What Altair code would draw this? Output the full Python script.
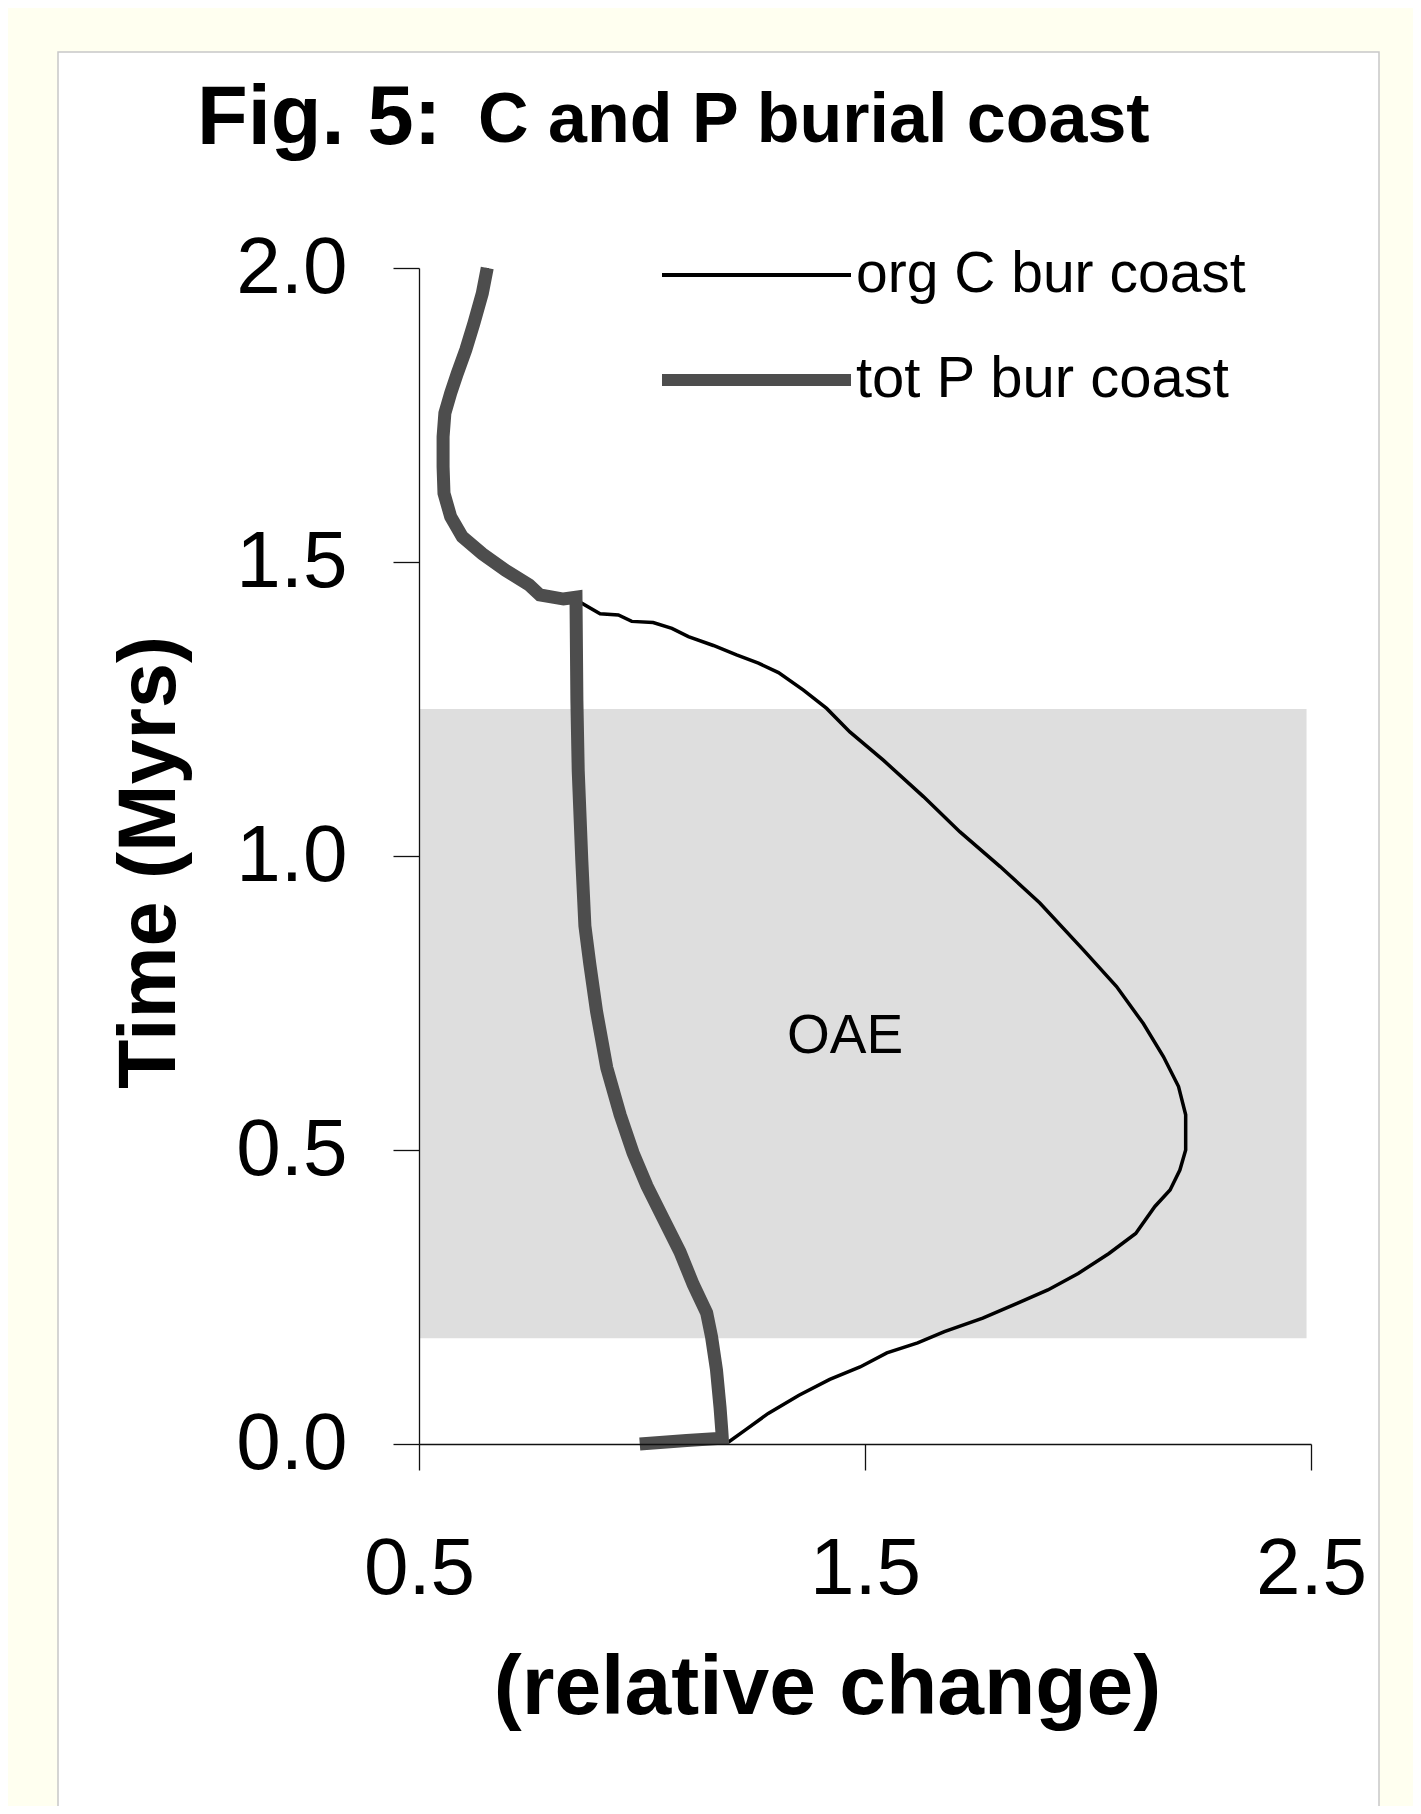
import altair as alt
import pandas as pd

# ---- data ----
c_x = [1.000, 1.195, 1.232, 1.283, 1.352, 1.421, 1.489, 1.549, 1.618, 1.678, 1.764,
       1.841, 1.910, 1.978, 2.047, 2.107, 2.150, 2.184, 2.206, 2.219, 2.219, 2.203,
       2.169, 2.124, 2.064, 1.990, 1.892, 1.803, 1.713, 1.631, 1.541, 1.466, 1.414,
       1.362, 1.306, 1.261, 1.212, 1.160, 1.104, 1.067, 1.025, 0.977, 0.947, 0.906,
       0.865, 0.824, 0.771, 0.747, 0.694, 0.642, 0.597, 0.571, 0.556, 0.554, 0.554,
       0.558, 0.571, 0.586, 0.605, 0.623, 0.642, 0.653]
c_t = [0.000, 0.004, 0.024, 0.052, 0.083, 0.110, 0.131, 0.155, 0.172, 0.191, 0.214,
       0.239, 0.262, 0.290, 0.324, 0.358, 0.404, 0.432, 0.466, 0.500, 0.560, 0.608,
       0.659, 0.715, 0.778, 0.840, 0.920, 0.982, 1.041, 1.101, 1.163, 1.211, 1.251,
       1.282, 1.312, 1.328, 1.342, 1.358, 1.373, 1.387, 1.397, 1.399, 1.410, 1.412,
       1.430, 1.437, 1.444, 1.461, 1.486, 1.514, 1.543, 1.577, 1.617, 1.662, 1.713,
       1.753, 1.787, 1.821, 1.861, 1.906, 1.957, 2.000]

p_x = [0.995, 1.100, 1.180, 1.179, 1.175, 1.167, 1.156, 1.145, 1.115, 1.085, 1.048,
       1.011, 0.980, 0.951, 0.921, 0.898, 0.883, 0.872, 0.865, 0.857, 0.854, 0.852,
       0.824, 0.771, 0.747, 0.694, 0.642, 0.597, 0.571, 0.556, 0.554, 0.554, 0.558,
       0.571, 0.586, 0.605, 0.623, 0.642, 0.653]
p_t = [0.000, 0.006, 0.010, 0.022, 0.062, 0.126, 0.182, 0.223, 0.271, 0.327, 0.383,
       0.439, 0.495, 0.560, 0.640, 0.736, 0.816, 0.881, 0.993, 1.145, 1.265, 1.440,
       1.437, 1.444, 1.461, 1.486, 1.514, 1.543, 1.577, 1.617, 1.662, 1.713, 1.753,
       1.787, 1.821, 1.861, 1.906, 1.957, 2.000]

oae_x = [0.5, 2.49]
oae_t = [0.18, 1.25]
oae_label = "OAE"

x_ticks = [0.5, 1.5, 2.5]
y_ticks = [0.0, 0.5, 1.0, 1.5, 2.0]
legend_labels = ["org C bur coast", "tot P bur coast"]
title_main = "Fig. 5:"
title_sub = "C and P burial coast"

# ---- chart ----
W, H = 892, 1176
FONT = "Liberation Sans"

c_df = pd.DataFrame({"x": c_x, "t": c_t, "i": list(range(len(c_x)))})
p_df = pd.DataFrame({"x": p_x, "t": p_t, "i": list(range(len(p_x)))})
oae_df = pd.DataFrame({"x": [oae_x[0]], "x1": [oae_x[1]], "t": [oae_t[0]], "t1": [oae_t[1]]})
one = pd.DataFrame({"k": [0]})

xscale = alt.Scale(domain=[0.5, 2.5], nice=False, zero=False)
yscale = alt.Scale(domain=[0, 2], nice=False, zero=False)

xaxis = alt.Axis(values=x_ticks, format=".1f", title="(relative change)",
                 titleX=408, titleY=269, titleAlign="center", titleBaseline="alphabetic",
                 titleFontSize=84, labelPadding=60, labelFlush=False, zindex=1)
yaxis = alt.Axis(values=y_ticks, format=".1f", title="Time (Myrs)",
                 titleAngle=270, titleX=-269, titleY=594, titleAlign="center",
                 titleBaseline="middle", titleFontSize=81, labelPadding=46, zindex=1)

X = alt.X("x:Q", scale=xscale, axis=xaxis, title="(relative change)")
Y = alt.Y("t:Q", scale=yscale, axis=yaxis, title="Time (Myrs)")

panel = alt.Chart(one).mark_rect(fill="white", stroke="#c8c8c8", strokeWidth=1.5).encode(
    x=alt.value(-361), x2=alt.value(960), y=alt.value(-216), y2=alt.value(1600))

oae = alt.Chart(oae_df).mark_rect(fill="#dedede").encode(
    x=X, x2="x1:Q", y=Y, y2="t1:Q")

c_line = alt.Chart(c_df).mark_line(color="#000000", strokeWidth=3.5).encode(
    x=X, y=Y, order="i:Q")

p_line = alt.Chart(p_df).mark_line(color="#4d4d4d", strokeWidth=13).encode(
    x=X, y=Y, order="i:Q")

oae_text = alt.Chart(one).mark_text(text=oae_label, font=FONT, fontSize=55, color="black",
                                    align="center", baseline="middle").encode(
    x=alt.value(426), y=alt.value(768))

leg_c = alt.Chart(one).mark_rule(color="black", strokeWidth=4).encode(
    x=alt.value(243), x2=alt.value(432), y=alt.value(7))
leg_p = alt.Chart(one).mark_rule(color="#4d4d4d", strokeWidth=12).encode(
    x=alt.value(243), x2=alt.value(432), y=alt.value(112))
leg_t1 = alt.Chart(one).mark_text(text=legend_labels[0], font=FONT, fontSize=57, color="black",
                                  align="left", baseline="middle").encode(
    x=alt.value(437), y=alt.value(7))
leg_t2 = alt.Chart(one).mark_text(text=legend_labels[1], font=FONT, fontSize=58, color="black",
                                  align="left", baseline="middle").encode(
    x=alt.value(437), y=alt.value(112))

t_main = alt.Chart(one).mark_text(text=title_main, font=FONT, fontSize=83, fontWeight="bold",
                                  color="black", align="left", baseline="alphabetic").encode(
    x=alt.value(-222), y=alt.value(-124))
t_sub = alt.Chart(one).mark_text(text=title_sub, font=FONT, fontSize=70, fontWeight="bold",
                                 color="black", align="left", baseline="alphabetic").encode(
    x=alt.value(59), y=alt.value(-126))

chart = alt.layer(panel, oae, c_line, p_line, oae_text, leg_c, leg_p, leg_t1, leg_t2,
                  t_main, t_sub).properties(
    width=W, height=H,
    background="#FFFFF0",
    padding={"left": 411, "top": 260, "right": 102, "bottom": 362},
    autosize=alt.AutoSizeParams(type="none"),
).configure_view(strokeWidth=0).configure_axis(
    grid=False,
    domainColor="#111111", domainWidth=1.3,
    tickColor="#111111", tickWidth=1.3, tickSize=26,
    labelFont=FONT, labelFontSize=80, labelColor="black",
    titleFont=FONT, titleFontSize=80, titleFontWeight="bold", titleColor="black",
)

chart.save("out.html", embed_options={"renderer": "svg", "actions": False})
